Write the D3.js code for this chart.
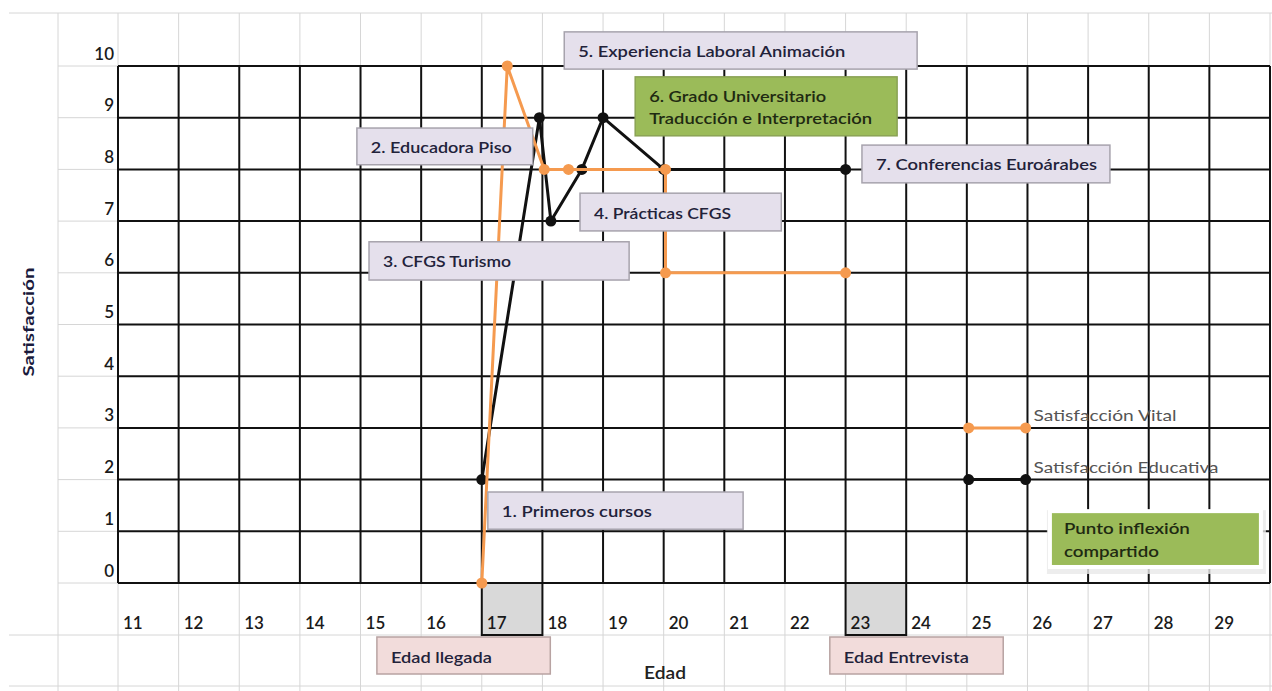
<!DOCTYPE html>
<html>
<head>
<meta charset="utf-8">
<script src="https://cdn.jsdelivr.net/npm/d3@7"></script>
<style>
  html, body { margin: 0; padding: 0; background: #fff; }
  svg { display: block; }
</style>
</head>
<body>
<svg id="chart" width="1272" height="691"></svg>
<script>
// ---------------- DATA ----------------
const ageTicks = [11,12,13,14,15,16,17,18,19,20,21,22,23,24,25,26,27,28,29];
const satTicks = [0,1,2,3,4,5,6,7,8,9,10];

const eduAges   = [17, 17.95, 18.14, 18.65, 19, 20, 23];
const eduValues = [2, 9, 7, 8, 9, 8, 8];

const vitalAges   = [17, 17.42, 18.03, 18.43, 20.03, 20.03, 23];
const vitalValues = [0, 10, 8, 8, 8, 6, 6];

const seriesNames = ["Satisfacción Vital", "Satisfacción Educativa"];
const highlightAges = [17, 23];
const highlightLabels = ["Edad llegada", "Edad Entrevista"];

const eventLabels = [
  ["5. Experiencia Laboral Animación"],
  ["6. Grado Universitario", "Traducción e Interpretación"],
  ["2. Educadora Piso"],
  ["3. CFGS Turismo"],
  ["4. Prácticas CFGS"],
  ["7. Conferencias Euroárabes"],
  ["1. Primeros cursos"],
  ["Punto inflexión", "compartido"]
];

const xTitle = "Edad";
const yTitle = "Satisfacción";

// ---------------- LAYOUT (data units, through scales) ----------------
const eventLayout = [
  {x0:18.36, x1:24.18, y0:10.66, y1:9.94, kind:"lav",   w:[267]},
  {x0:19.53, x1:23.85, y0:9.79,  y1:8.65, kind:"green", w:[177,223]},
  {x0:14.94, x1:17.84, y0:8.80,  y1:8.09, kind:"lav",   w:[141]},
  {x0:15.14, x1:19.43, y0:6.60,  y1:5.86, kind:"lav",   w:[128]},
  {x0:18.62, x1:21.94, y0:7.54,  y1:6.81, kind:"lav",   w:[137]},
  {x0:23.27, x1:27.36, y0:8.47,  y1:7.74, kind:"lav",   w:[221]},
  {x0:17.10, x1:21.31, y0:1.76,  y1:1.04, kind:"lav",   w:[150]},
  {x0:26.37, x1:29.85, y0:1.39,  y1:0.31, kind:"punto", w:[126,95]}
];
const highlightLayout = [
  {x0:15.27, x1:18.13, w:101},
  {x0:22.74, x1:25.60, w:125}
];

// ---------------- SCALES ----------------
const svg = d3.select("#chart");
const x = d3.scaleLinear().domain([11, 30]).range([118, 1270]);
const y = d3.scaleLinear().domain([0, 10]).range([583, 66]);

const FONT = "Lato, 'Open Sans', 'DejaVu Sans', sans-serif";
const light = "#d6d6d6";
const allCols = d3.range(11, 31);

// ---------------- EXCEL LIGHT GRID ----------------
const g0 = svg.append("g").attr("stroke", light).attr("stroke-width", 1);
// top row & horizontal edges
[13, 635, 686].forEach(yy => g0.append("line").attr("x1", 9).attr("x2", 1272).attr("y1", yy).attr("y2", yy));
// left column row lines
satTicks.forEach(v => g0.append("line").attr("x1", 58).attr("x2", x(11)).attr("y1", y(v)).attr("y2", y(v)));
// vertical x=58
g0.append("line").attr("x1", 58).attr("x2", 58).attr("y1", 13).attr("y2", 691);
// column lines in top row and bottom rows
allCols.forEach(a => {
  g0.append("line").attr("x1", x(a)).attr("x2", x(a)).attr("y1", 13).attr("y2", y(10));
  g0.append("line").attr("x1", x(a)).attr("x2", x(a)).attr("y1", y(0)).attr("y2", 691);
});

// ---------------- HIGHLIGHTED AGE CELLS ----------------
highlightAges.forEach(a => {
  svg.append("rect")
    .attr("x", x(a)).attr("y", y(0))
    .attr("width", x(a + 1) - x(a)).attr("height", 635 - y(0))
    .attr("fill", "#d9d9d9").attr("stroke", "#111").attr("stroke-width", 2);
});

// ---------------- BOLD GRID ----------------
const gg = svg.append("g").attr("stroke", "#111").attr("stroke-width", 2);
allCols.forEach(a => gg.append("line").attr("x1", x(a)).attr("x2", x(a)).attr("y1", y(10)).attr("y2", y(0)));
satTicks.forEach(v => gg.append("line").attr("x1", x(11)).attr("x2", x(30)).attr("y1", y(v)).attr("y2", y(v)));

// ---------------- TICK LABELS ----------------
svg.append("g").selectAll("text").data(satTicks).join("text")
  .attr("x", 114).attr("y", d => y(d) - 13)
  .attr("text-anchor", "end").attr("dominant-baseline", "central")
  .attr("font-family", FONT).attr("font-size", 17).attr("font-weight", 600)
  .attr("fill", "#1a1a1a").text(d => d);

svg.append("g").selectAll("text").data(ageTicks).join("text")
  .attr("x", d => x(d) + 5).attr("y", 622)
  .attr("dominant-baseline", "central")
  .attr("font-family", FONT).attr("font-size", 17).attr("font-weight", 600)
  .attr("fill", "#1a1a1a").text(d => d);

// ---------------- AXIS TITLES ----------------
svg.append("text")
  .attr("transform", "translate(28,322) rotate(-90)")
  .attr("text-anchor", "middle").attr("dominant-baseline", "central")
  .attr("font-family", FONT).attr("font-size", 15).attr("font-weight", "bold")
  .attr("fill", "#1a1a3c").attr("textLength", 109).attr("lengthAdjust", "spacingAndGlyphs")
  .text(yTitle);

svg.append("text")
  .attr("x", 644).attr("y", 672).attr("dominant-baseline", "central")
  .attr("font-family", FONT).attr("font-size", 17).attr("font-weight", 600)
  .attr("fill", "#222").attr("textLength", 42).attr("lengthAdjust", "spacingAndGlyphs")
  .text(xTitle);

// ---------------- SERIES ----------------
const line = d3.line().x(d => x(d[0])).y(d => y(d[1]));
const eduPts = eduAges.map((a, i) => [a, eduValues[i]]);
const vitPts = vitalAges.map((a, i) => [a, vitalValues[i]]);
const ORANGE = "#f59a4f";

svg.append("path").datum(eduPts).attr("d", line)
  .attr("fill", "none").attr("stroke", "#111").attr("stroke-width", 3).attr("stroke-linejoin", "round");
svg.append("g").selectAll("circle").data(eduPts).join("circle")
  .attr("cx", d => x(d[0])).attr("cy", d => y(d[1])).attr("r", 5.5).attr("fill", "#111");

svg.append("path").datum(vitPts).attr("d", line)
  .attr("fill", "none").attr("stroke", ORANGE).attr("stroke-width", 3).attr("stroke-linejoin", "round");
svg.append("g").selectAll("circle").data(vitPts).join("circle")
  .attr("cx", d => x(d[0])).attr("cy", d => y(d[1])).attr("r", 5.5).attr("fill", ORANGE);

// ---------------- LEGEND ----------------
const legendCols = [ORANGE, "#111"];
const legendLevels = [3, 2];
seriesNames.forEach((name, i) => {
  const lv = legendLevels[i];
  svg.append("line").attr("x1", x(25.03)).attr("x2", x(25.97)).attr("y1", y(lv)).attr("y2", y(lv))
    .attr("stroke", legendCols[i]).attr("stroke-width", 3);
  [25.03, 25.97].forEach(a => svg.append("circle").attr("cx", x(a)).attr("cy", y(lv)).attr("r", 5.5).attr("fill", legendCols[i]));
  svg.append("text").attr("x", x(26) + 6).attr("y", y(lv) - 13).attr("dominant-baseline", "central")
    .attr("font-family", FONT).attr("font-size", 15).attr("fill", "#555")
    .attr("textLength", i === 0 ? 143 : 185).attr("lengthAdjust", "spacingAndGlyphs")
    .text(name);
});

// ---------------- EVENT BOXES ----------------
const fills = {lav: "#e5e0ec", green: "#9bbb59", punto: "#9bbb59"};
const strokes = {lav: "#a7a3ad", green: "#8aa255", punto: "#ffffff"};
const txtCol = {lav: "#22223a", green: "#1f2a12", punto: "#1f2a12"};

eventLabels.forEach((lines, i) => {
  const L = eventLayout[i];
  const bx = x(L.x0), by = y(L.y0), bw = x(L.x1) - x(L.x0), bh = y(L.y1) - y(L.y0);
  if (L.kind === "punto") {
    svg.append("rect").attr("x", bx - 3).attr("y", by - 1).attr("width", bw + 8).attr("height", bh + 8)
      .attr("fill", "#e8e8e8").attr("opacity", 0.8);
  }
  svg.append("rect").attr("x", bx).attr("y", by).attr("width", bw).attr("height", bh)
    .attr("fill", fills[L.kind]).attr("stroke", strokes[L.kind]).attr("stroke-width", L.kind === "punto" ? 4 : 1.5);
  const n = lines.length;
  const cy = by + bh / 2;
  const lh = 22.5;
  lines.forEach((t, j) => {
    svg.append("text")
      .attr("x", bx + 14).attr("y", cy + (j - (n - 1) / 2) * lh)
      .attr("dominant-baseline", "central")
      .attr("font-family", FONT).attr("font-size", 16).attr("font-weight", 600)
      .attr("fill", txtCol[L.kind])
      .attr("textLength", L.w[j]).attr("lengthAdjust", "spacingAndGlyphs")
      .text(t);
  });
});

// ---------------- HIGHLIGHT LABEL BOXES ----------------
highlightLabels.forEach((t, i) => {
  const H = highlightLayout[i];
  const bx = x(H.x0), bw = x(H.x1) - x(H.x0);
  svg.append("rect").attr("x", bx).attr("y", 637).attr("width", bw).attr("height", 37)
    .attr("fill", "#f2dcdb").attr("stroke", "#b8a3a2").attr("stroke-width", 1.5);
  svg.append("text").attr("x", bx + 14).attr("y", 656).attr("dominant-baseline", "central")
    .attr("font-family", FONT).attr("font-size", 16).attr("font-weight", 600)
    .attr("fill", "#22223a").attr("textLength", H.w).attr("lengthAdjust", "spacingAndGlyphs")
    .text(t);
});
</script>
</body>
</html>
